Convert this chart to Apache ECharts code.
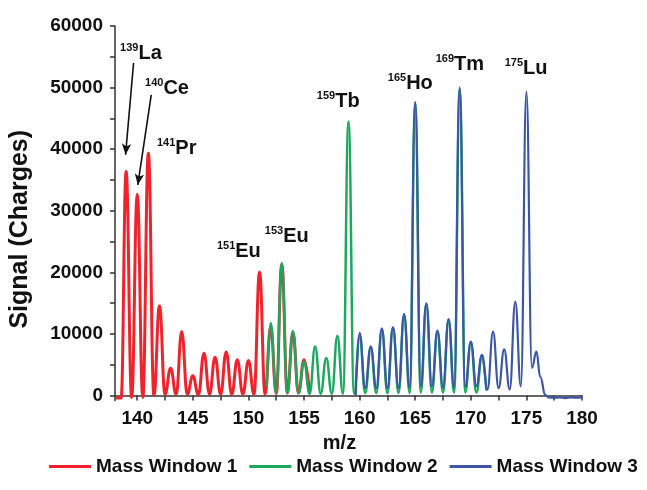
<!DOCTYPE html>
<html>
<head>
<meta charset="utf-8">
<script src="https://cdn.jsdelivr.net/npm/echarts@6/dist/echarts.min.js"></script>
<style>
  html, body { margin: 0; padding: 0; background: #fff; }
  #main { width: 647px; height: 490px; }
</style>
</head>
<body>
<div id="main"></div>
<script>
// Mass Window 1 (red)
var redMz  = [138.0, 138.55, 139, 139.5, 140, 140.5, 141, 141.5, 142, 142.5, 143, 143.5, 144, 144.5, 145, 145.5,
              146, 146.5, 147, 147.5, 148, 148.5, 149, 149.5, 150, 150.5, 151, 151.5, 152, 152.5, 153, 153.5,
              154, 154.5, 155, 155.5];
var redSig = [-400, -400, 36360, -300, 32700, -300, 39350, 0, 14560, 200, 4450, 200, 10400, 200, 3200, 100,
              6880, 200, 6230, 200, 7090, 200, 5800, 200, 5680, 200, 20080, 200, 11200, 300, 21300, 400,
              10300, 400, 5800, 300];

// Mass Window 2 (green)
var greenMz  = [151.65, 152, 152.5, 153, 153.5, 154, 154.5, 155, 155.5, 156, 156.5, 157, 157.5, 158, 158.5,
                159, 159.5, 160, 160.5, 161, 161.5, 162, 162.5, 163, 163.5, 164, 164.5, 165, 165.5, 166, 166.5,
                167, 167.5, 168, 168.5, 169, 169.5, 170, 170.5, 171, 171.4];
var greenSig = [1500, 11800, 400, 21500, 400, 10500, 400, 5500, 300, 7950, 300, 6100, 300, 9700, 300,
                44480, 300, 9850, 400, 7800, 400, 10700, 400, 11000, 400, 13000, 400, 47500, 500, 14800, 500,
                10400, 500, 12300, 500, 49800, 500, 8600, 500, 6400, 800];

// Mass Window 3 (blue)
var blueMz  = [159.65, 160, 160.5, 161, 161.5, 162, 162.5, 163, 163.5, 164, 164.5, 165, 165.5, 166, 166.5,
               167, 167.5, 168, 168.5, 169, 169.5, 170, 170.5, 171, 171.5, 172, 172.5, 173, 173.5, 174, 174.5,
               175, 175.5, 175.9, 176.25, 176.7, 177, 177.5, 178, 178.5, 179, 179.5, 180];
var blueSig = [0, 10200, 1200, 8000, 1200, 10900, 1200, 11100, 1200, 13250, 1300, 47700, 1500, 15000, 1500,
               10550, 1300, 12400, 1300, 50060, 1400, 8770, 1500, 6600, 1000, 10400, 1200, 7500, 1000, 15250, 1500,
               49350, 4500, 7150, 3000, 100, -300, -350, -300, -400, -300, -350, -300];

// peak labels
var annoMass = ['139', '140', '141', '151', '153', '159', '165', '169', '175'];
var annoEl   = ['La', 'Ce', 'Pr', 'Eu', 'Eu', 'Tb', 'Ho', 'Tm', 'Lu'];
var annoX    = [138.5, 140.75, 141.82, 147.21, 151.52, 156.2, 162.58, 166.89, 173.09];
var annoY    = [53670, 47990, 38250, 21530, 23960, 45880, 48800, 51880, 51230];

// arrows to La and Ce peaks: [fromX, fromY, toX, toY]
var arrows = [[139.67, 54000, 138.95, 39100], [141.26, 48830, 140.05, 34200]];

var xTicks = [140, 142.5, 145, 147.5, 150, 152.5, 155, 157.5, 160, 162.5, 165, 167.5, 170, 172.5, 175, 177.5, 180];
var xLabels = [140, 145, 150, 155, 160, 165, 170, 175, 180];
var yTicks = [0, 5000, 10000, 15000, 20000, 25000, 30000, 35000, 40000, 45000, 50000, 55000, 60000];
var yLabels = [0, 10000, 20000, 30000, 40000, 50000, 60000];

function zip(a, b) {
  return a.map(function (v, i) { return [v, b[i]]; });
}

var font = 'Liberation Sans, Arial, sans-serif';
var chart = echarts.init(document.getElementById('main'));

var marks = annoMass.map(function (m, i) {
  return { coord: [annoX[i], annoY[i]], value: m + '|' + annoEl[i] };
});

chart.setOption({
  animation: false,
  grid: { left: 115, right: 65, top: 26, bottom: 89.5 },
  legend: {
    left: 44, right: 0, top: 452,
    itemWidth: 42, itemHeight: 3, itemGap: 12,
    icon: 'rect',
    textStyle: { fontSize: 19, fontWeight: 'bold', color: '#111', fontFamily: font },
    data: ['Mass Window 1', 'Mass Window 2', 'Mass Window 3']
  },
  xAxis: {
    type: 'value', min: 138, max: 180,
    name: 'm/z', nameLocation: 'middle', nameGap: 28,
    nameTextStyle: { fontSize: 20, fontWeight: 'bold', color: '#111', fontFamily: font, padding: [0, 18, 0, 0] },
    axisLine: { lineStyle: { color: '#333', width: 1.5 } },
    axisTick: { show: true, length: 5, customValues: xTicks, lineStyle: { color: '#333', width: 1.5 } },
    axisLabel: { customValues: xLabels, margin: 9, fontSize: 19, fontWeight: 'bold', color: '#111', fontFamily: font },
    splitLine: { show: false }
  },
  yAxis: {
    type: 'value', min: -800, max: 60000,
    name: 'Signal (Charges)', nameLocation: 'middle', nameGap: 82,
    nameTextStyle: { fontSize: 25, fontWeight: 'bold', color: '#111', fontFamily: font, padding: [0, 32, 0, 0] },
    axisLine: { show: true, lineStyle: { color: '#333', width: 1.5 } },
    axisTick: { show: true, length: 5, customValues: yTicks, lineStyle: { color: '#333', width: 1.5 } },
    axisLabel: {
      customValues: yLabels, margin: 12, fontSize: 19, fontWeight: 'bold', color: '#111', fontFamily: font,
      formatter: function (v) { return String(v); }
    },
    splitLine: { show: false }
  },
  series: [
    {
      name: 'Mass Window 1', type: 'line', data: zip(redMz, redSig),
      symbol: 'none', smooth: 0.45, smoothMonotone: 'x', z: 2,
      lineStyle: { color: '#f0232d', width: 3 }, itemStyle: { color: '#f0232d' },
      markPoint: {
        symbol: 'rect', symbolSize: 1, itemStyle: { color: 'rgba(0,0,0,0)' }, silent: true,
        label: {
          show: true, position: [0, 0], align: 'left', verticalAlign: 'bottom',
          formatter: function (p) {
            var s = p.data.value.split('|');
            return '{s|' + s[0] + '}{e|' + s[1] + '}';
          },
          rich: {
            s: { fontSize: 11, fontWeight: 'bold', color: '#111', fontFamily: font, lineHeight: 12, verticalAlign: 'top' },
            e: { fontSize: 20, fontWeight: 'bold', color: '#111', fontFamily: font, lineHeight: 22 }
          }
        },
        data: marks
      },
      markLine: {
        silent: true, symbol: ['none', 'arrow'], symbolSize: [7, 11],
        label: { show: false },
        lineStyle: { color: '#111', width: 1.6, type: 'solid' },
        data: arrows.map(function (a) { return [{ coord: [a[0], a[1]] }, { coord: [a[2], a[3]] }]; })
      }
    },
    {
      name: 'Mass Window 2', type: 'line', data: zip(greenMz, greenSig),
      symbol: 'none', smooth: 0.45, smoothMonotone: 'x', z: 3,
      lineStyle: { color: '#1ea85e', width: 2.5 }, itemStyle: { color: '#1ea85e' }
    },
    {
      name: 'Mass Window 3', type: 'line', data: zip(blueMz, blueSig),
      symbol: 'none', smooth: 0.45, smoothMonotone: 'x', z: 4,
      lineStyle: { color: '#3c55a5', width: 2.2 }, itemStyle: { color: '#3c55a5' }
    }
  ]
});
</script>
</body>
</html>
